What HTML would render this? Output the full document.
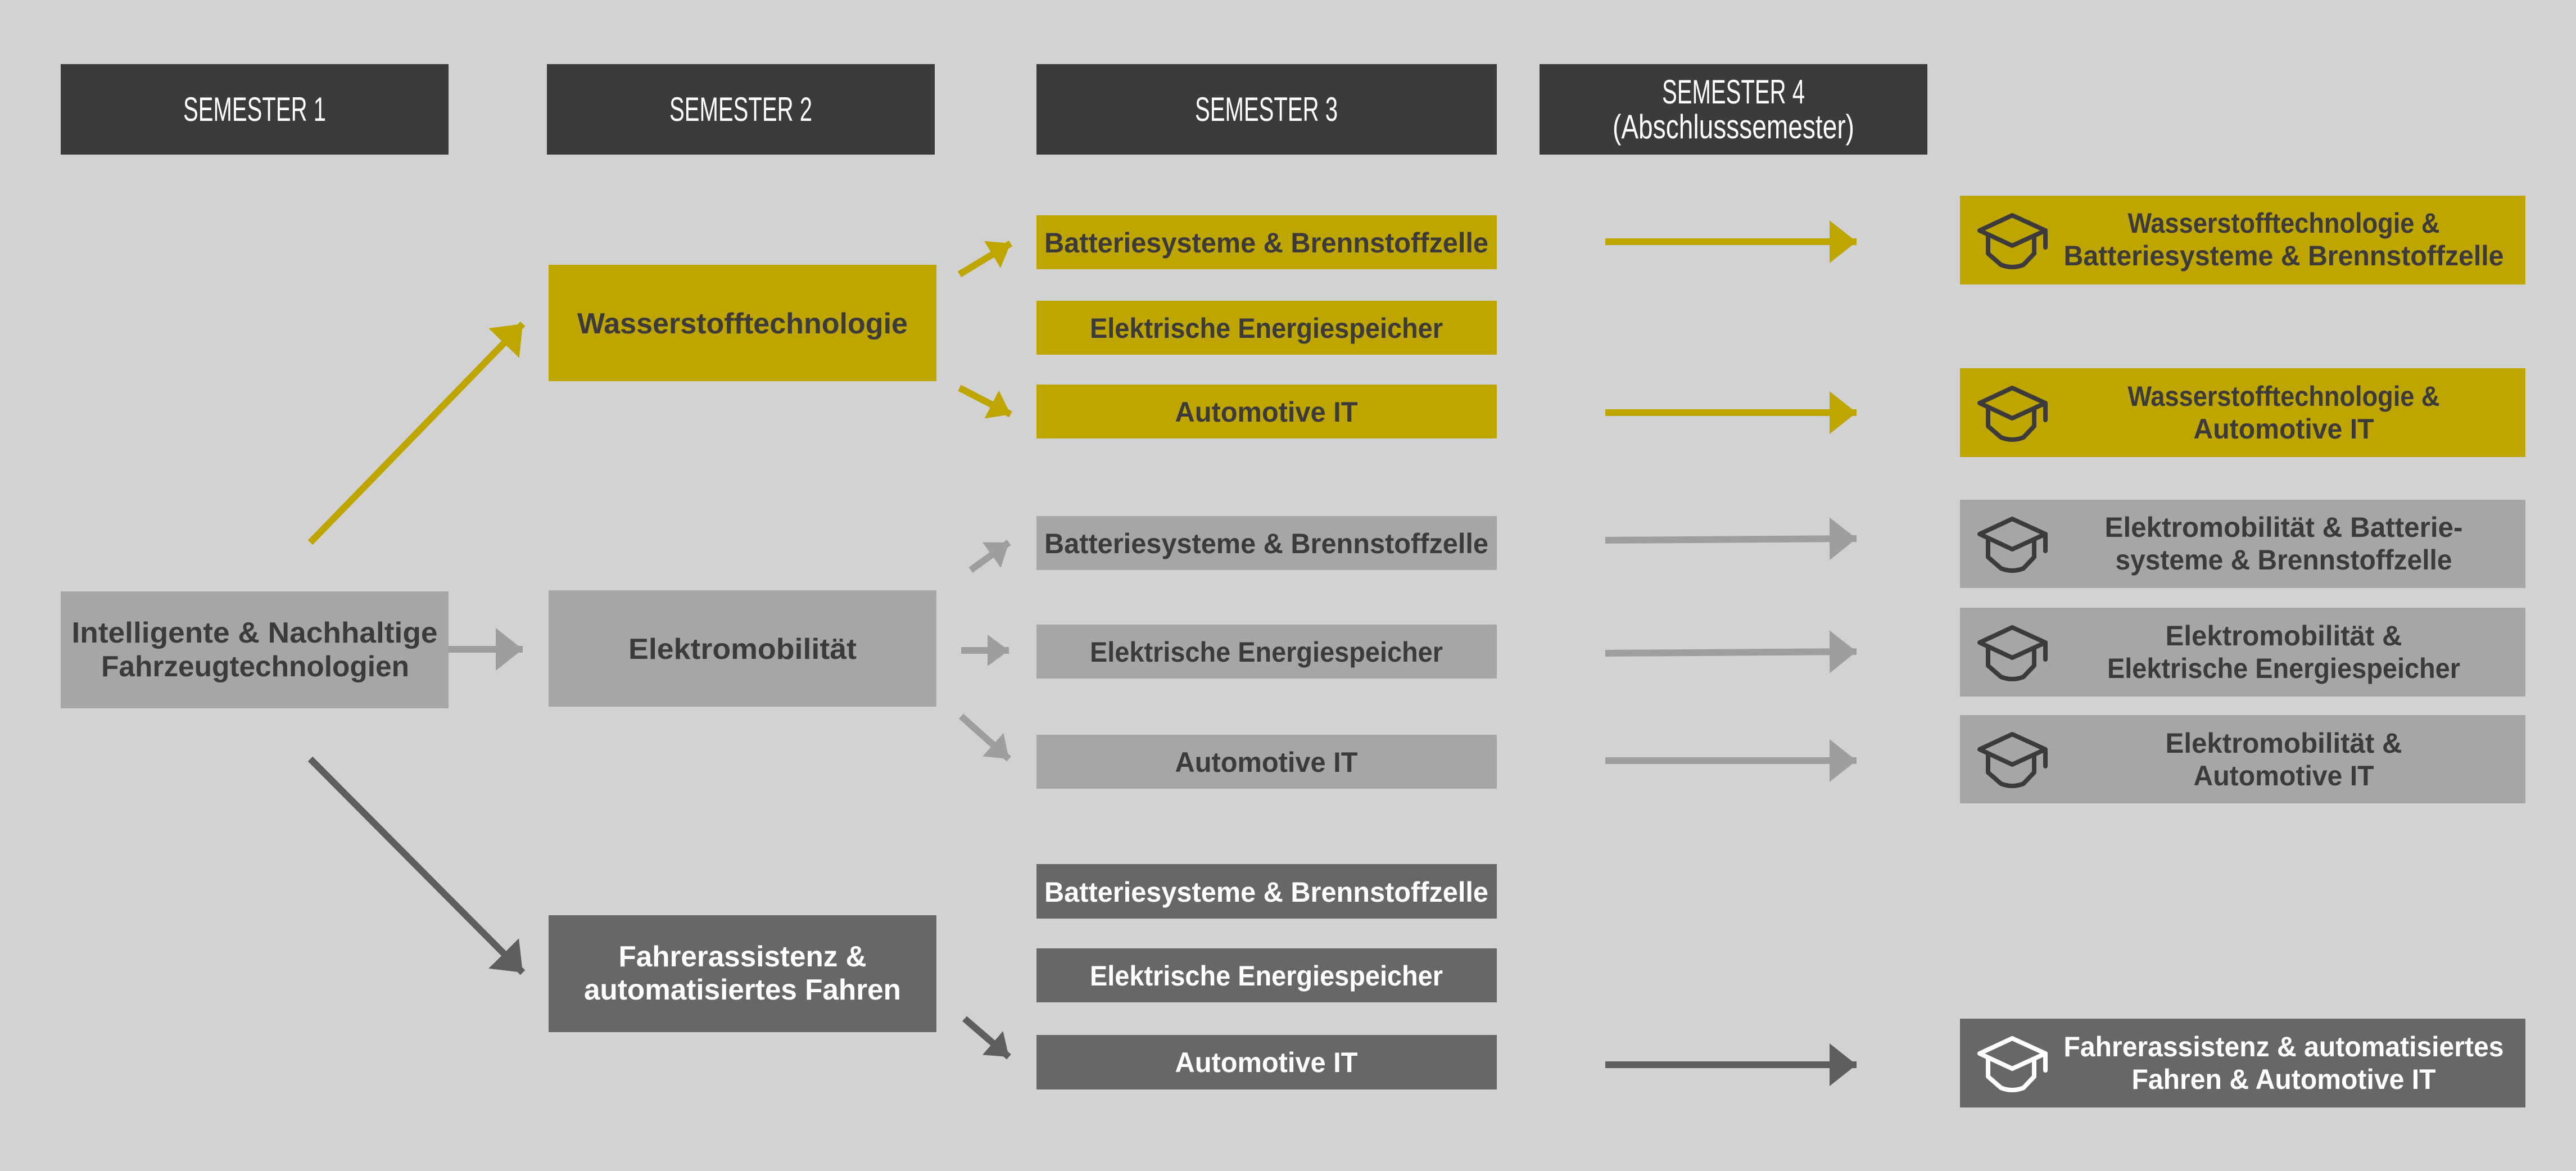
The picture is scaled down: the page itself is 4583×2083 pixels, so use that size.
<!DOCTYPE html>
<html><head><meta charset="utf-8"><style>html,body{margin:0;padding:0;background:#d2d2d2}svg{display:block}</style></head>
<body>
<svg width="4583" height="2083" viewBox="0 0 4583 2083" xmlns="http://www.w3.org/2000/svg" font-family="Liberation Sans, sans-serif">
<defs>
<marker id="hy" markerUnits="userSpaceOnUse" markerWidth="50" markerHeight="80" refX="48" refY="40" orient="auto"><polygon points="0,2 48,40 0,78" fill="#bea500"/></marker>
<marker id="hg" markerUnits="userSpaceOnUse" markerWidth="50" markerHeight="80" refX="48" refY="40" orient="auto"><polygon points="0,2 48,40 0,78" fill="#9e9e9e"/></marker>
<marker id="hd" markerUnits="userSpaceOnUse" markerWidth="50" markerHeight="80" refX="48" refY="40" orient="auto"><polygon points="0,2 48,40 0,78" fill="#5f5d5e"/></marker>
<marker id="sy" markerUnits="userSpaceOnUse" markerWidth="40" markerHeight="60" refX="38" refY="30" orient="auto"><polygon points="0,2 38,30 0,58" fill="#bea500"/></marker>
<marker id="sg" markerUnits="userSpaceOnUse" markerWidth="40" markerHeight="60" refX="38" refY="30" orient="auto"><polygon points="0,2 38,30 0,58" fill="#9e9e9e"/></marker>
<marker id="sd" markerUnits="userSpaceOnUse" markerWidth="40" markerHeight="60" refX="38" refY="30" orient="auto"><polygon points="0,2 38,30 0,58" fill="#5f5d5e"/></marker>
<g id="cap" fill="none" stroke-width="8" stroke-linejoin="round" stroke-linecap="round">
<polygon points="58,0 117,27 58,54 0,27"/>
<path d="M15,38 V68 L38,88 Q58,96 78,88 L97,68 V38"/>
<path d="M117,27 V57"/>
</g>
</defs>
<rect width="4583" height="2083" fill="#d2d2d2"/>

<g fill="#3c3a3b">
<rect x="108" y="114" width="690" height="161"/>
<rect x="973" y="114" width="690" height="161"/>
<rect x="1844" y="114" width="819" height="161"/>
<rect x="2739" y="114" width="690" height="161"/>
</g>
<g fill="#fff" font-size="60" text-anchor="middle">
<text x="453" y="215" textLength="254" lengthAdjust="spacingAndGlyphs">SEMESTER 1</text>
<text x="1318" y="215" textLength="254" lengthAdjust="spacingAndGlyphs">SEMESTER 2</text>
<text x="2253" y="215" textLength="254" lengthAdjust="spacingAndGlyphs">SEMESTER 3</text>
<text x="3084" y="184" textLength="254" lengthAdjust="spacingAndGlyphs">SEMESTER 4</text>
<text x="3084" y="246" textLength="430" lengthAdjust="spacingAndGlyphs">(Abschlusssemester)</text>
</g>

<rect x="108" y="1052" width="690" height="208" fill="#a6a6a6"/>
<rect x="976" y="471" width="690" height="207" fill="#bea500"/>
<rect x="976" y="1050" width="690" height="207" fill="#a6a6a6"/>
<rect x="976" y="1628" width="690" height="208" fill="#686667"/>

<g>
<rect x="1844" y="383" width="819" height="96" fill="#bea500"/>
<rect x="1844" y="535" width="819" height="96" fill="#bea500"/>
<rect x="1844" y="684" width="819" height="96" fill="#bea500"/>
<rect x="1844" y="918" width="819" height="96" fill="#a6a6a6"/>
<rect x="1844" y="1111" width="819" height="96" fill="#a6a6a6"/>
<rect x="1844" y="1307" width="819" height="96" fill="#a6a6a6"/>
<rect x="1844" y="1537" width="819" height="97" fill="#686667"/>
<rect x="1844" y="1687" width="819" height="96" fill="#686667"/>
<rect x="1844" y="1841" width="819" height="97" fill="#686667"/>
</g>
<g>
<rect x="3487" y="348" width="1006" height="158" fill="#bea500"/>
<rect x="3487" y="655" width="1006" height="158" fill="#bea500"/>
<rect x="3487" y="889" width="1006" height="157" fill="#a6a6a6"/>
<rect x="3487" y="1081" width="1006" height="158" fill="#a6a6a6"/>
<rect x="3487" y="1272" width="1006" height="157" fill="#a6a6a6"/>
<rect x="3487" y="1812" width="1006" height="158" fill="#686667"/>
</g>

<g font-weight="bold" font-size="52" text-anchor="middle" fill="#3c3a3b">
<text x="453" y="1143" textLength="651" lengthAdjust="spacingAndGlyphs">Intelligente &amp; Nachhaltige</text>
<text x="454" y="1203" textLength="548" lengthAdjust="spacingAndGlyphs">Fahrzeugtechnologien</text>
<text x="1321" y="593" textLength="588" lengthAdjust="spacingAndGlyphs">Wasserstofftechnologie</text>
<text x="1321" y="1172" textLength="406" lengthAdjust="spacingAndGlyphs">Elektromobilität</text>
<text x="1321" y="1719" textLength="441" lengthAdjust="spacingAndGlyphs" fill="#fff">Fahrerassistenz &amp;</text>
<text x="1321" y="1778" textLength="564" lengthAdjust="spacingAndGlyphs" fill="#fff">automatisiertes Fahren</text>
</g>
<g font-weight="bold" font-size="50" text-anchor="middle" fill="#3c3a3b">
<text x="2253" y="449" textLength="790" lengthAdjust="spacingAndGlyphs">Batteriesysteme &amp; Brennstoffzelle</text>
<text x="2253" y="601" textLength="628" lengthAdjust="spacingAndGlyphs">Elektrische Energiespeicher</text>
<text x="2253" y="750" textLength="325" lengthAdjust="spacingAndGlyphs">Automotive IT</text>
<text x="2253" y="984" textLength="790" lengthAdjust="spacingAndGlyphs">Batteriesysteme &amp; Brennstoffzelle</text>
<text x="2253" y="1177" textLength="628" lengthAdjust="spacingAndGlyphs">Elektrische Energiespeicher</text>
<text x="2253" y="1373" textLength="325" lengthAdjust="spacingAndGlyphs">Automotive IT</text>
<g fill="#fff">
<text x="2253" y="1604" textLength="790" lengthAdjust="spacingAndGlyphs">Batteriesysteme &amp; Brennstoffzelle</text>
<text x="2253" y="1753" textLength="628" lengthAdjust="spacingAndGlyphs">Elektrische Energiespeicher</text>
<text x="2253" y="1907" textLength="325" lengthAdjust="spacingAndGlyphs">Automotive IT</text>
</g>
</g>
<g font-weight="bold" font-size="50" text-anchor="middle" fill="#3c3a3b">
<text x="4063" y="414" textLength="555" lengthAdjust="spacingAndGlyphs">Wasserstofftechnologie &amp;</text>
<text x="4063" y="472" textLength="783" lengthAdjust="spacingAndGlyphs">Batteriesysteme &amp; Brennstoffzelle</text>
<text x="4063" y="722" textLength="555" lengthAdjust="spacingAndGlyphs">Wasserstofftechnologie &amp;</text>
<text x="4063" y="780" textLength="321" lengthAdjust="spacingAndGlyphs">Automotive IT</text>
<text x="4063" y="955" textLength="637" lengthAdjust="spacingAndGlyphs">Elektromobilität &amp; Batterie-</text>
<text x="4063" y="1013" textLength="599" lengthAdjust="spacingAndGlyphs">systeme &amp; Brennstoffzelle</text>
<text x="4063" y="1148" textLength="421" lengthAdjust="spacingAndGlyphs">Elektromobilität &amp;</text>
<text x="4063" y="1206" textLength="628" lengthAdjust="spacingAndGlyphs">Elektrische Energiespeicher</text>
<text x="4063" y="1339" textLength="421" lengthAdjust="spacingAndGlyphs">Elektromobilität &amp;</text>
<text x="4063" y="1397" textLength="321" lengthAdjust="spacingAndGlyphs">Automotive IT</text>
<text x="4063" y="1879" textLength="783" lengthAdjust="spacingAndGlyphs" fill="#fff">Fahrerassistenz &amp; automatisiertes</text>
<text x="4063" y="1937" textLength="541" lengthAdjust="spacingAndGlyphs" fill="#fff">Fahren &amp; Automotive IT</text>
</g>

<use href="#cap" x="3522" y="383" stroke="#3c3a3b"/>
<use href="#cap" x="3522" y="690" stroke="#3c3a3b"/>
<use href="#cap" x="3522" y="923" stroke="#3c3a3b"/>
<use href="#cap" x="3522" y="1116" stroke="#3c3a3b"/>
<use href="#cap" x="3522" y="1306" stroke="#3c3a3b"/>
<use href="#cap" x="3522" y="1847" stroke="#fff"/>

<g stroke-width="12" fill="none">
<line x1="552" y1="965" x2="930" y2="576" stroke="#bea500" marker-end="url(#hy)"/>
<line x1="798" y1="1155" x2="930" y2="1155" stroke="#9e9e9e" marker-end="url(#hg)"/>
<line x1="552" y1="1350" x2="930" y2="1730" stroke="#5f5d5e" marker-end="url(#hd)"/>

<line x1="1707" y1="488" x2="1798" y2="433" stroke="#bea500" marker-end="url(#sy)"/>
<line x1="1707" y1="690" x2="1798" y2="737" stroke="#bea500" marker-end="url(#sy)"/>
<line x1="1727" y1="1014" x2="1795" y2="965" stroke="#9e9e9e" marker-end="url(#sg)"/>
<line x1="1710" y1="1157" x2="1795" y2="1157" stroke="#9e9e9e" marker-end="url(#sg)"/>
<line x1="1710" y1="1274" x2="1795" y2="1350" stroke="#9e9e9e" marker-end="url(#sg)"/>
<line x1="1716" y1="1812" x2="1795" y2="1880" stroke="#5f5d5e" marker-end="url(#sd)"/>

<line x1="2856" y1="430" x2="3303" y2="430" stroke="#bea500" marker-end="url(#hy)"/>
<line x1="2856" y1="734" x2="3303" y2="734" stroke="#bea500" marker-end="url(#hy)"/>
<line x1="2856" y1="961" x2="3303" y2="958" stroke="#9e9e9e" marker-end="url(#hg)"/>
<line x1="2856" y1="1162" x2="3303" y2="1159" stroke="#9e9e9e" marker-end="url(#hg)"/>
<line x1="2856" y1="1353" x2="3303" y2="1353" stroke="#9e9e9e" marker-end="url(#hg)"/>
<line x1="2856" y1="1894" x2="3303" y2="1894" stroke="#5f5d5e" marker-end="url(#hd)"/>
</g>
</svg>
</body></html>
